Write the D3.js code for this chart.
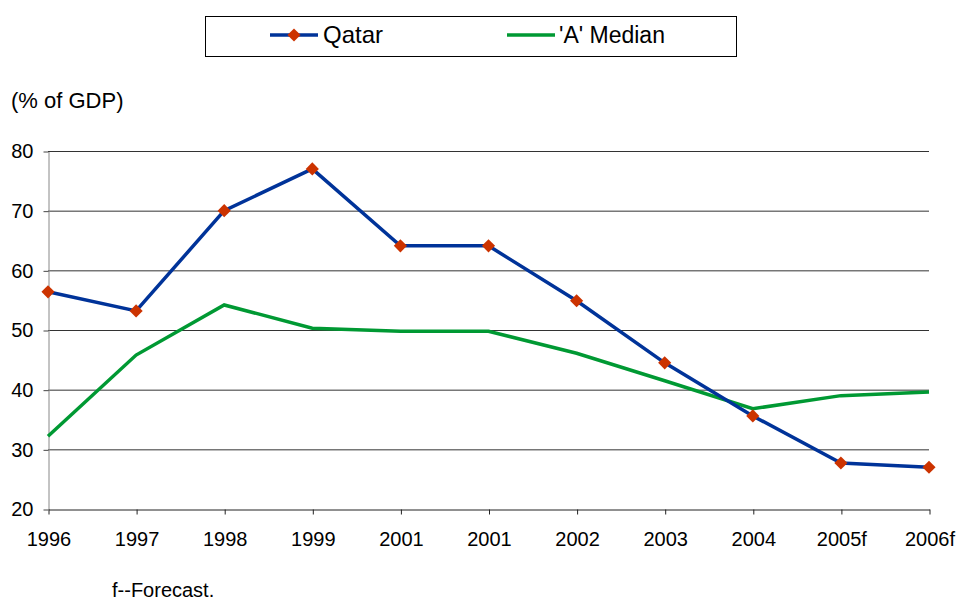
<!DOCTYPE html>
<meta charset="utf-8">
<style>
  body { margin: 0; background: #fff; }
  text { font-family: "Liberation Sans", Arial, sans-serif; fill: #000; }
</style>
<svg width="957" height="601"></svg>
<script src="https://cdn.jsdelivr.net/npm/d3@7"></script>
<script>
  var years = ['1996', '1997', '1998', '1999', '2001', '2001', '2002', '2003', '2004', '2005f', '2006f']
  var qatar = [56.4, 53.2, 70.0, 77.0, 64.1, 64.1, 54.9, 44.5, 35.6, 27.7, 27.0]
  var median = [32.2, 45.8, 54.2, 50.3, 49.8, 49.8, 46.1, 41.5, 36.8, 39.0, 39.6]
  var yTicks = [20, 30, 40, 50, 60, 70, 80]

  var svg = d3.select('svg')
  var plotLeft = 48, plotRight = 929, plotTop = 151, plotBottom = 509

  // index based, because 2001 shows up twice
  var x = d3.scalePoint().domain(d3.range(years.length)).range([plotLeft, plotRight])
  var y = d3.scaleLinear().domain([20, 80]).range([plotBottom, plotTop])

  // grid lines
  svg.append('g')
    .selectAll('line')
    .data(yTicks.filter(function(d) { return d > 20 }))
    .enter().append('line')
    .attr('x1', plotLeft).attr('x2', plotRight)
    .attr('y1', function(d) { return y(d) + 0.5 }).attr('y2', function(d) { return y(d) + 0.5 })
    .attr('stroke', '#333').attr('stroke-width', 1)

  var yAxis = svg.append('g')
    .attr('transform', 'translate(' + (plotLeft + 0.5) + ',0.5)')
    .call(d3.axisLeft(y).tickValues(yTicks).tickSize(5).tickPadding(10).tickSizeOuter(0))
  yAxis.select('.domain').attr('stroke', '#888')
  yAxis.selectAll('.tick line').attr('stroke', '#444')
  yAxis.selectAll('text').attr('font-size', 20).attr('font-family', '"Liberation Sans", Arial, sans-serif')

  var xAxis = svg.append('g')
    .attr('transform', 'translate(0.5,' + (plotBottom + 0.5) + ')')
    .call(d3.axisBottom(x).tickSize(5).tickPadding(17).tickSizeOuter(0)
      .tickFormat(function(i) { return years[i] }))
  xAxis.select('.domain').attr('stroke', '#222')
  xAxis.selectAll('.tick line').attr('stroke', '#222')
  xAxis.selectAll('text').attr('font-size', 20).attr('font-family', '"Liberation Sans", Arial, sans-serif')

  var line = d3.line()
    .x(function(d, i) { return x(i) })
    .y(function(d) { return y(d) })

  svg.append('path').datum(median)
    .attr('d', line).attr('fill', 'none')
    .attr('stroke', '#009933').attr('stroke-width', 3.5)

  svg.append('path').datum(qatar)
    .attr('d', line).attr('fill', 'none')
    .attr('stroke', '#003399').attr('stroke-width', 3.5)

  var diamond = d3.symbol().type(d3.symbolDiamond2).size(110)
  svg.append('g')
    .selectAll('path')
    .data(qatar)
    .enter().append('path')
    .attr('d', diamond)
    .attr('transform', function(d, i) { return 'translate(' + x(i) + ',' + y(d) + ')' })
    .attr('fill', '#cc3300')

  // legend
  var legend = svg.append('g')
  legend.append('rect')
    .attr('x', 205.5).attr('y', 16.5).attr('width', 531).attr('height', 40)
    .attr('fill', 'none').attr('stroke', '#000').attr('stroke-width', 1)
  legend.append('line')
    .attr('x1', 270).attr('x2', 318).attr('y1', 35).attr('y2', 35)
    .attr('stroke', '#003399').attr('stroke-width', 3.5)
  legend.append('path')
    .attr('d', diamond).attr('transform', 'translate(294,35)').attr('fill', '#cc3300')
  legend.append('text')
    .attr('x', 323).attr('y', 43).attr('font-size', 24).text('Qatar')
  legend.append('line')
    .attr('x1', 507).attr('x2', 555).attr('y1', 35).attr('y2', 35)
    .attr('stroke', '#009933').attr('stroke-width', 3.5)
  legend.append('text')
    .attr('x', 559).attr('y', 43).attr('font-size', 23).text("'A' Median")

  svg.append('text')
    .attr('x', 11).attr('y', 108).attr('font-size', 22).text('(% of GDP)')

  svg.append('text')
    .attr('x', 112).attr('y', 597).attr('font-size', 20).text('f--Forecast.')
</script>
